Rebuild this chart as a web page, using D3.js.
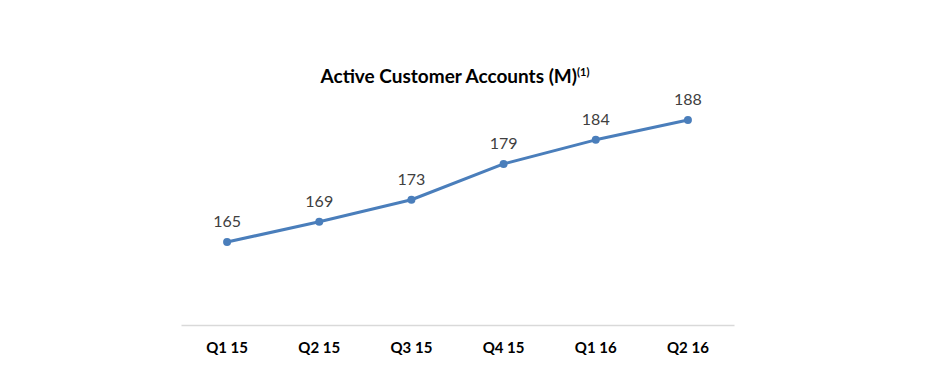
<!DOCTYPE html>
<html><head><meta charset="utf-8">
<script src="https://cdn.jsdelivr.net/npm/d3@7/dist/d3.min.js"></script>
<style>body{margin:0;background:#fff;}svg{display:block;}</style>
</head><body><svg id="c" width="935" height="379"></svg>
<script>
const categories = ["Q1 15","Q2 15","Q3 15","Q4 15","Q1 16","Q2 16"];
const values = [164.8, 168.6, 172.7, 179.4, 183.9, 187.6];
const titleText = "Active Customer Accounts (M)";
const titleSup = "(1)";

const svg = d3.select("#c");
const x = d3.scaleBand().domain(categories).range([181, 734]);
const y = d3.scaleLinear().domain([149.2, 190]).range([325.5, 107.2]);
const font = "Lato, 'Open Sans', sans-serif";

// axis
const xAxis = d3.axisBottom(x).tickSize(0).tickPadding(17);
const gx = svg.append("g").attr("transform","translate(0,325)").call(xAxis);
gx.select(".domain").attr("stroke","#d9d9d9").attr("stroke-width",1.5);
gx.selectAll("text").attr("font-family",font).attr("font-weight","bold")
  .attr("font-size",15).attr("fill","#000");

const line = d3.line().x((d,i)=>x(categories[i])+x.bandwidth()/2).y(d=>y(d));
svg.append("path").datum(values).attr("d",line).attr("fill","none")
  .attr("stroke","#4a7ebb").attr("stroke-width",3).attr("stroke-linejoin","round");
svg.selectAll("circle.m").data(values).enter().append("circle")
  .attr("cx",(d,i)=>x(categories[i])+x.bandwidth()/2).attr("cy",d=>y(d))
  .attr("r",4).attr("fill","#4a7ebb");
svg.selectAll("text.l").data(values).enter().append("text")
  .attr("x",(d,i)=>x(categories[i])+x.bandwidth()/2).attr("y",d=>y(d)-15)
  .attr("text-anchor","middle").attr("font-family",font).attr("font-size",16)
  .attr("fill","#404040").text(d=>d3.format(".0f")(d));

const t = svg.append("text").attr("x",455).attr("y",83).attr("text-anchor","middle")
  .attr("font-family",font).attr("font-weight","bold").attr("font-size",19).attr("fill","#000");
t.append("tspan").text(titleText);
t.append("tspan").attr("font-size",11).attr("dy",-7).text(titleSup);
</script></body></html>
